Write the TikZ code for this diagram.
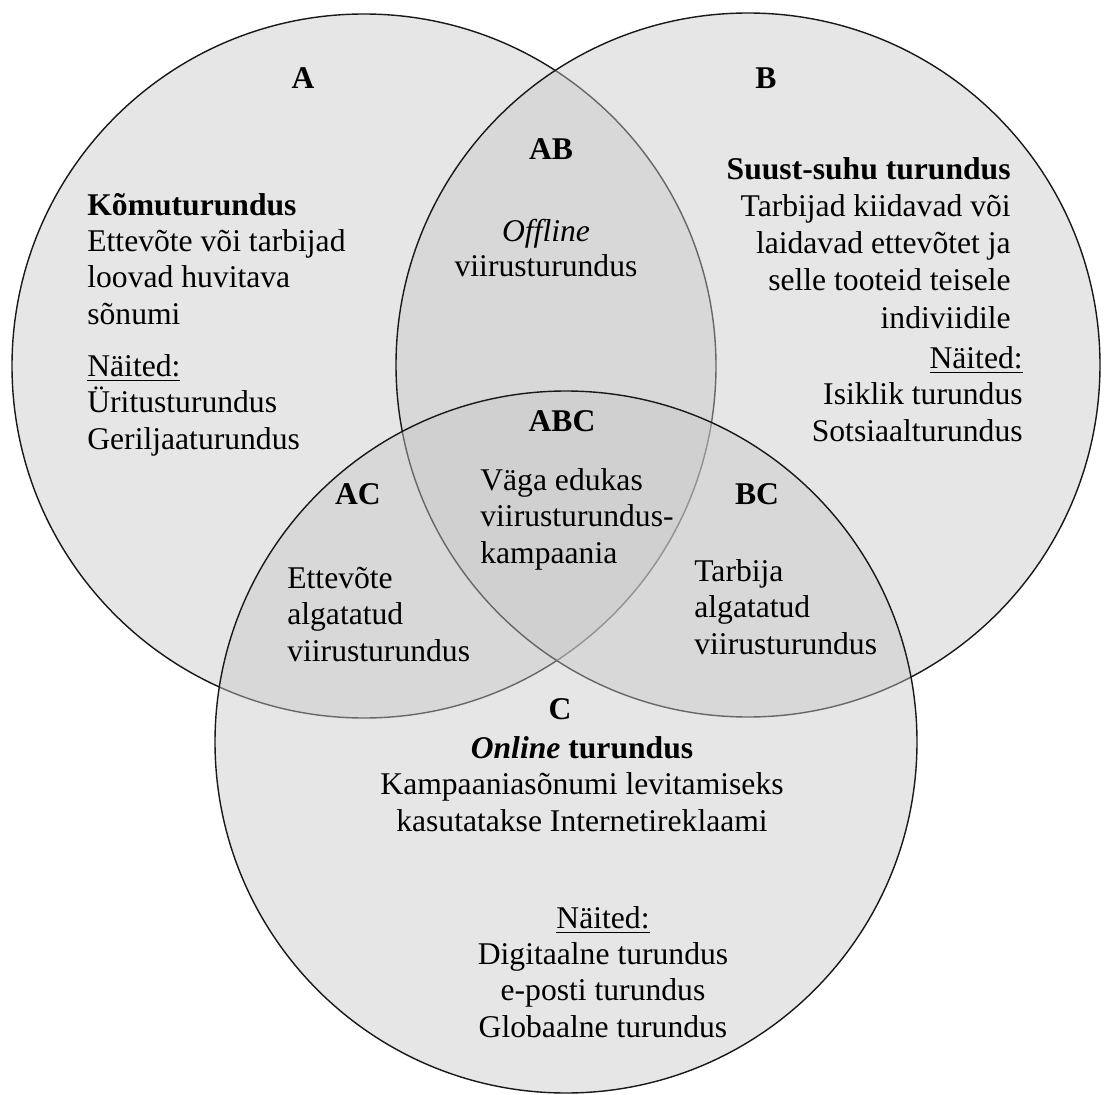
\documentclass[tikz,border=0pt]{standalone}
\usepackage{fontspec}
\setmainfont{Liberation Serif}
\usepackage{xcolor}
\usepackage{tikz}

\newcommand{\vsz}{\fontsize{18}{20.5}\selectfont}

\begin{document}
\begin{tikzpicture}[x=0.02cm,y=-0.02cm,
        ring/.style={fill=black!22,fill opacity=0.45},
        rim/.style={draw=black!90,line width=0.8pt},
        hd/.style={font=\vsz\bfseries,anchor=base,inner sep=0pt},
        txt/.style={font=\vsz,inner sep=0pt}]
            \useasboundingbox (0,0) rectangle (1106,1095);
            \coordinate (ca) at (364,366);
            \coordinate (cb) at (748,365);
            \coordinate (cc) at (566,742);
            %%%% circles
            \fill [ring] (ca) circle (352);
            \draw [rim] (ca) circle (352);
            \fill [ring] (cb) circle (352);
            \draw [rim] (cb) circle (352);
            \fill [ring] (cc) circle (351);
            \draw [rim] (cc) circle (351);

            %%%% A  (base = last line)
            \node[hd] (a) at (303,89) {A};
            \node[txt,anchor=base west,align=left] (ad) at (87,324) {\textbf{Kõmuturundus}\\Ettevõte või tarbijad\\loovad huvitava\\sõnumi};
            \node[txt,anchor=base west,align=left] (ax) at (87,449) {\underline{Näited:}\\Üritusturundus\\Geriljaaturundus};

            %%%% B
            \node[hd] (b) at (766,89) {B};
            \node[txt,anchor=base east,align=right,font=\fontsize{18}{21.2}\selectfont] (bd) at (1011,328) {\textbf{Suust-suhu turundus}\\Tarbijad kiidavad või\\laidavad ettevõtet ja\\selle tooteid teisele\\indiviidile};
            \node[txt,anchor=base east,align=right] (bx) at (1023,441) {\underline{Näited:}\\Isiklik turundus\\Sotsiaalturundus};

            %%%% AB
            \node[hd] (ab) at (551,159) {AB};
            \node[txt,anchor=base,align=center,font=\fontsize{18}{19.4}\selectfont] (abd) at (546,276) {\textit{Offline}\\viirusturundus};

            %%%% ABC
            \node[hd] (abc) at (562,431) {ABC};
            \node[txt,anchor=base west,align=left] (abcd) at (480,563) {Väga edukas\\viirusturundus-\\kampaania};

            %%%% AC, BC
            \node[hd] (ac) at (358,504) {AC};
            \node[txt,anchor=base west,align=left] (acd) at (287,661) {Ettevõte\\algatatud\\viirusturundus};
            \node[hd] (bc) at (757,504) {BC};
            \node[txt,anchor=base west,align=left] (bcd) at (694,654) {Tarbija\\algatatud\\viirusturundus};

            %%%% C
            \node[hd] (c) at (560,719) {C};
            \node[txt,anchor=base,align=center] (cd) at (582,831) {\textbf{\textit{Online} turundus}\\Kampaaniasõnumi levitamiseks\\kasutatakse Internetireklaami};
            \node[txt,anchor=base,align=center] (cx) at (603,1037) {\underline{Näited:}\\Digitaalne turundus\\e-posti turundus\\Globaalne turundus};
        \end{tikzpicture}
\end{document}
